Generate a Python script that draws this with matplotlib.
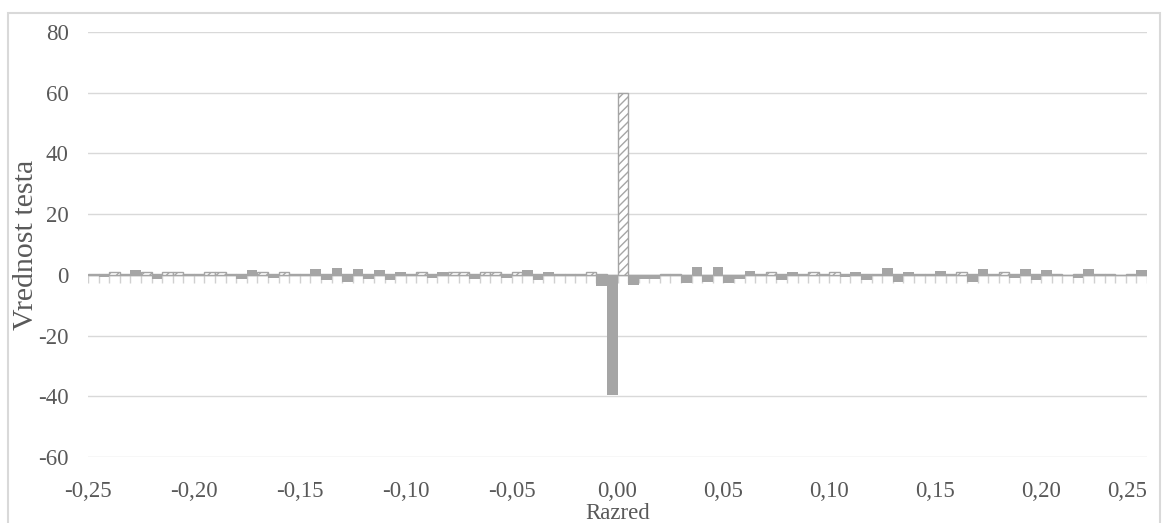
import numpy as np
import matplotlib.pyplot as plt
from matplotlib.patches import Rectangle

# categories (left edge of each class), step 0.005
razred = np.round(np.arange(-0.25, 0.25, 0.005), 3)

# solid grey series
siva = [0, -0.7, 0, 0, 1.5, 0, -1.2, 0, 0, 0,
        0, 0, 0, 0, -1.4, 1.5, 0, -1.1, 0, 0,
        -0.5, 1.9, -1.6, 2.4, -2.2, 2.0, -1.3, 1.6, -1.6, 1.0,
        0, 0, -1.1, 1.0, 0, 0, -1.4, 0, 0, -1.1,
        0, 1.5, -1.6, 1.0, 0, 0, 0, 0, -3.6, -39.5,
        0, -3.5, -1.2, -1.5, 0, -0.5, -2.6, 2.7, -2.2, 2.7,
        -2.7, -1.3, 1.4, 0, 0, -1.8, 1.1, 0, 0, 0,
        0, -0.7, 1.0, -1.8, 0, 2.4, -2.2, 1.0, 0, -0.5,
        1.4, 0, 0, -2.2, 1.9, 0, 0, -1.1, 1.9, -1.8,
        1.6, 0, 0, -1.1, 2.0, 0, 0, 0, -0.5, 1.5]

# hatched series
srafura = [0.3, 0.3, 0.8, 0.3, 0.3, 0.8, 0.3, 0.8, 0.8, 0.3,
           0.3, 0.8, 0.8, 0.2, 0.3, 0.3, 0.8, 0.3, 0.8, 0.3,
           0.3, 0.3, 0.3, 0.3, 0.3, 0.3, 0.3, 0.3, 0.3, 0.3,
           0.3, 0.8, 0.3, 0.3, 0.8, 0.8, 0.3, 0.8, 0.8, 0.3,
           0.8, 0.3, 0.3, 0.3, 0.3, 0.2, 0.3, 0.8, 0.3, 0,
           60, 0, 0, 0, 0.3, 0.3, 0, 0, 0, 0,
           0, 0, 0.3, 0.3, 0.8, 0.3, 0.3, 0.3, 0.8, 0.3,
           0.8, 0.3, 0.3, 0.3, 0.3, 0.3, 0.3, 0.3, 0.3, 0.3,
           0.3, 0.3, 0.8, 0.3, 0.3, 0.3, 0.8, 0.3, 0.3, 0.3,
           0.3, 0.3, 0, 0.3, 0.3, 0.3, 0.3, 0, 0.3, 0.3]

xticks = [-0.25, -0.20, -0.15, -0.10, -0.05, 0.0, 0.05, 0.10, 0.15, 0.20, 0.25]
yticks = [-60, -40, -20, 0, 20, 40, 60, 80]

plt.rcParams['font.family'] = ['Liberation Serif', 'DejaVu Serif']
plt.rcParams['axes.unicode_minus'] = False
plt.rcParams['hatch.linewidth'] = 1.0
txt = '#595959'
grey = '#a5a5a5'

fig = plt.figure(figsize=(11.68, 5.23), dpi=100)
fig.patches.append(Rectangle((8 / 1168, -0.05), 1152 / 1168, 1.05 - 13 / 523,
                             transform=fig.transFigure, fill=False,
                             edgecolor='#d9d9d9', linewidth=1.5))
ax = fig.add_axes([88 / 1168, 1 - 457 / 523, 1059 / 1168, 425 / 523])

w = 0.005
ax.bar(razred, srafura, width=w, align='edge', color='white',
       edgecolor=grey, hatch='////', linewidth=1.0, zorder=2)
ax.bar(razred, siva, width=w, align='edge', color=grey, linewidth=0, zorder=3)

# horizontal axis line at zero with tick marks between classes
ax.axhline(0, color='#bfbfbf', linewidth=1.0, zorder=1)
edges = np.append(razred, razred[-1] + w)
ax.vlines(edges, -2.7, 0, color='#d0d0d0', linewidth=1.0, zorder=1)

ax.set_xlim(-0.25, 0.25)
ax.set_ylim(-60, 80)
ax.set_yticks(yticks)
ax.set_xticks(xticks)
ax.set_xticklabels([f'{v:.2f}'.replace('.', ',') for v in xticks])
ax.get_xticklabels()[-1].set_horizontalalignment('right')
ax.grid(axis='y', color='#d9d9d9', linewidth=1.0, zorder=0)
ax.set_axisbelow(True)
for s in ax.spines.values():
    s.set_visible(False)
ax.tick_params(axis='both', length=0, labelsize=16.5, colors=txt)
ax.tick_params(axis='x', pad=17)
ax.tick_params(axis='y', pad=14)
ax.set_xlabel('Razred', fontsize=16.5, color=txt)
ax.xaxis.set_label_coords(0.5, -46 / 425)
ax.set_ylabel('Vrednost testa', fontsize=21.5, color=txt)
ax.yaxis.set_label_coords(-49 / 1059, 0.5)

fig.savefig('out.png', dpi=100)
